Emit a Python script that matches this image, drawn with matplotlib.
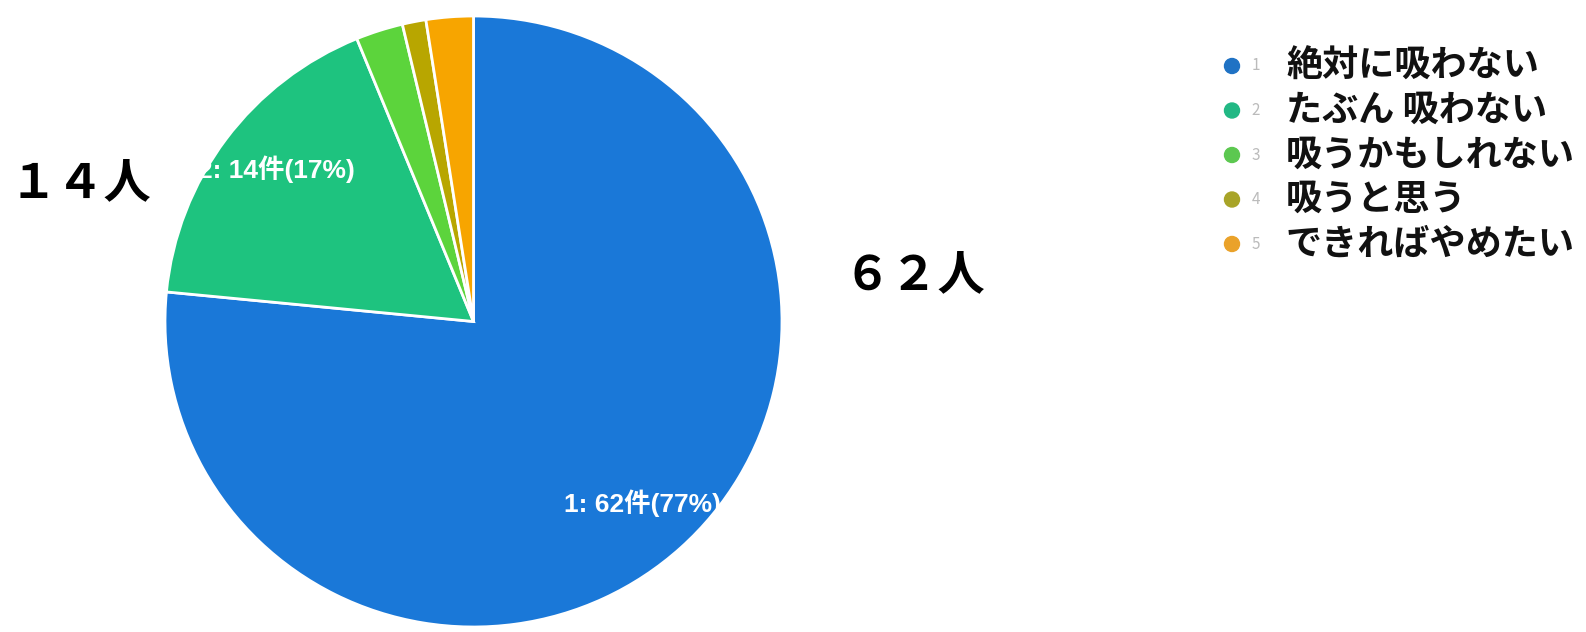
import matplotlib
matplotlib.use("Agg")
import matplotlib.pyplot as plt
from matplotlib.patches import Circle
from matplotlib.transforms import IdentityTransform

plt.rcParams['font.family'] = ['Noto Sans CJK JP', 'DejaVu Sans']

categories = ["絶対に吸わない", "たぶん 吸わない", "吸うかもしれない", "吸うと思う", "できればやめたい"]
codes = ["1", "2", "3", "4", "5"]
counts = [62, 14, 2, 1, 2]
percents = [77, 17, 2, 1, 2]
colors = ["#1a78d8", "#1ec37f", "#5cd43c", "#b8a600", "#f7a500"]
legend_colors = ["#1f72c4", "#22b884", "#5cc850", "#a8a428", "#eaa22a"]
big_labels = ["６２人", "１４人"]

W, H = 1586, 632
fig = plt.figure(figsize=(W / 100, H / 100), dpi=100)
fig.patch.set_facecolor("white")

def px(x0, y0, x1, y1):
    return [x0 / W, 1 - y1 / H, (x1 - x0) / W, (y1 - y0) / H]

ax = fig.add_axes(px(165, 16, 782, 627))
wedges, _ = ax.pie(counts, colors=colors, startangle=90, counterclock=False,
                   wedgeprops=dict(edgecolor="white", linewidth=2.0))
ax.set_aspect('auto')
ax.set_xlim(-1, 1)
ax.set_ylim(-1, 1)
ax.axis('off')

def ftext(x, y, s, **kw):
    fig.text(x / W, 1 - y / H, s, **kw)

lab_font = ['Liberation Sans', 'Noto Sans CJK JP']
ftext(642, 503, f"{codes[0]}: {counts[0]}件({percents[0]}%)", color="white",
      fontsize=19, fontweight="bold", ha="center", va="center", family=lab_font)
ftext(276, 169, f"{codes[1]}: {counts[1]}件({percents[1]}%)", color="white",
      fontsize=19, fontweight="bold", ha="center", va="center", family=lab_font)

ftext(843, 275, big_labels[0], fontsize=34, fontweight="bold", ha="left", va="center", color="black")
ftext(10, 183, big_labels[1], fontsize=34, fontweight="bold", ha="left", va="center", color="black")

y0, step = 66, 44.5
for i, (lab, code, c) in enumerate(zip(categories, codes, legend_colors)):
    y = y0 + i * step
    fig.add_artist(Circle((1232, H - y), 7.5, transform=IdentityTransform(), color=c))
    ftext(1256, y, code, fontsize=11, color="#bbbbbb", ha="center", va="center")
    ftext(1286, y, lab, fontsize=26, fontweight="bold", ha="left", va="center", color="#111111")

fig.savefig("out.png", dpi=100, facecolor="white")
